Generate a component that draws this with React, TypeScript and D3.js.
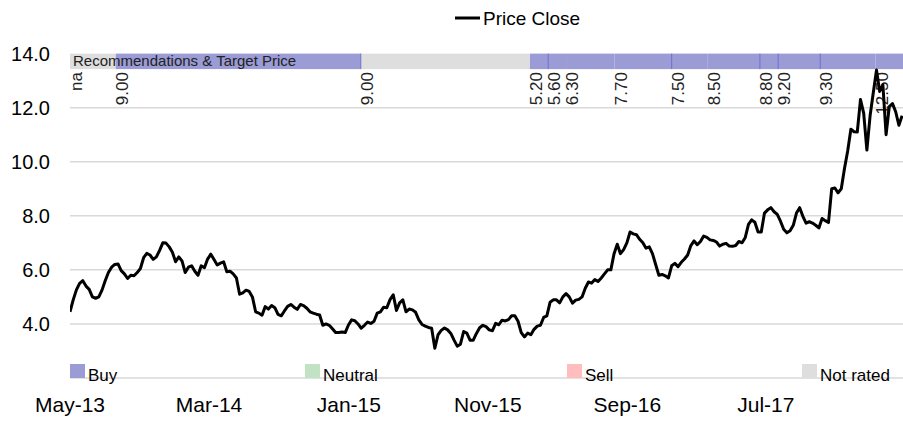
import React from "react";
import * as d3 from "d3";

// ---- data ----
const seriesStart = "2013-05-01";
const axisEnd = "2018-04-27";
// weekly closing prices, one per week from seriesStart
const weeklyClose = [
  4.45, 4.89, 5.26, 5.5, 5.6, 5.4, 5.28, 5.0, 4.95, 5.0,
  5.25, 5.6, 5.9, 6.1, 6.2, 6.22, 5.97, 5.85, 5.68, 5.8,
  5.78, 5.9, 6.05, 6.45, 6.61, 6.55, 6.39, 6.48, 6.72, 7.0,
  6.99, 6.85, 6.65, 6.3, 6.48, 6.33, 5.9, 6.1, 6.15, 5.95,
  5.8, 6.15, 6.08, 6.4, 6.58, 6.38, 6.18, 6.25, 6.3, 5.93,
  5.95, 5.85, 5.7, 5.1, 5.15, 5.25, 5.2, 5.0, 4.45, 4.4,
  4.32, 4.64, 4.55, 4.68, 4.6, 4.35, 4.3, 4.48, 4.65, 4.72,
  4.62, 4.54, 4.72, 4.68, 4.58, 4.45, 4.4, 4.36, 4.33, 3.95,
  4.0, 3.95, 3.82, 3.68, 3.68, 3.7, 3.68, 3.96, 4.15, 4.12,
  4.0, 3.84, 3.95, 4.07, 4.02, 4.1, 4.4, 4.45, 4.62, 4.6,
  4.9, 5.08, 4.5, 4.78, 4.89, 4.45, 4.55, 4.52, 4.43, 4.15,
  3.98, 3.92, 3.87, 3.84, 3.1, 3.6, 3.76, 3.85, 3.78, 3.65,
  3.4, 3.18, 3.25, 3.72, 3.66, 3.4, 3.4, 3.65, 3.86, 3.95,
  3.9, 3.78, 3.75, 4.02, 3.97, 4.14, 4.11, 4.16, 4.3, 4.3,
  4.1, 3.68, 3.52, 3.66, 3.6, 3.8, 3.92, 3.95, 4.24, 4.3,
  4.8, 4.89, 4.89, 4.78, 5.0, 5.12, 5.0, 4.77, 4.88, 4.91,
  5.0, 5.32, 5.55, 5.51, 5.64, 5.57, 5.7, 5.85, 6.0, 6.0,
  6.6, 6.95, 6.6, 6.75, 7.0, 7.4, 7.33, 7.3, 7.13, 7.0,
  6.8, 6.85, 6.6, 6.2, 5.8, 5.83, 5.78, 5.7, 6.15, 6.24,
  6.12, 6.28, 6.4, 6.55, 6.9, 7.07, 6.93, 7.05, 7.25, 7.2,
  7.11, 7.09, 7.03, 6.88, 6.95, 6.98, 6.88, 6.87, 6.9, 7.05,
  7.0, 7.2, 7.68, 7.85, 7.76, 7.4, 7.4, 8.1, 8.22, 8.3,
  8.15, 8.05, 7.8, 7.5, 7.37, 7.45, 7.65, 8.1, 8.3, 7.98,
  7.73, 7.78, 7.73, 7.65, 7.55, 7.9, 7.82, 7.75, 9.0, 9.03,
  8.85, 9.0, 9.75, 10.4, 11.2, 11.11, 11.1, 12.3, 11.8, 10.43,
  11.7, 12.55, 13.39, 12.6, 12.84, 11.0, 12.04, 12.15, 11.85, 11.35,
  11.7,
];

const yTicks = [4, 6, 8, 10, 12, 14];
const gridValues = [2, 4, 6, 8, 10, 12];
const xTickDates = ["2013-05-01", "2014-03-01", "2015-01-01", "2015-11-01", "2016-09-01", "2017-07-01"];
const xTickLabels = ["May-13", "Mar-14", "Jan-15", "Nov-15", "Sep-16", "Jul-17"];

// recommendation history
const ratingDates = [
  "2013-05-01", "2013-08-09", "2015-01-27", "2016-02-01", "2016-03-12", "2016-04-20",
  "2016-08-04", "2016-12-07", "2017-02-24", "2017-06-18", "2017-07-28", "2017-10-28", "2018-02-26",
];
const ratingTypes = [
  "Not rated", "Buy", "Not rated", "Buy", "Buy", "Buy",
  "Buy", "Buy", "Buy", "Buy", "Buy", "Buy", "Buy",
];
const targetPrices = [
  "na", "9.00", "9.00", "5.20", "5.60", "6.30",
  "7.70", "7.50", "8.50", "8.80", "9.20", "9.30", "12.50",
];
const dividerDates = ["2015-01-27", "2016-03-12", "2016-12-07", "2017-06-18", "2017-07-28", "2017-10-28"];

const legendLabels = ["Buy", "Neutral", "Sell", "Not rated"];
const seriesName = "Price Close";
const bannerTitle = "Recommendations & Target Price";

// ---- style ----
const ratingColor: Record<string, string> = {
  Buy: "#9b9bd6",
  Neutral: "#c2e2c6",
  Sell: "#ffbdbd",
  "Not rated": "#dedede",
};
const FONT = "'Liberation Sans', Arial, Helvetica, sans-serif";

export default function App() {
  const W = 903;
  const H = 421;
  const parse = d3.timeParse("%Y-%m-%d");
  const start = parse(seriesStart)!;
  const end = parse(axisEnd)!;

  const plotLeft = 70;
  const plotRight = 903;

  const x = d3.scaleTime().domain([start, end]).range([plotLeft, plotRight]);
  const y = d3.scaleLinear().domain([2, 14]).range([378, 53.6]);

  const data = weeklyClose.map((v, i) => ({ date: d3.timeDay.offset(start, 7 * i), value: v }));
  const line = d3
    .line<{ date: Date; value: number }>()
    .x((d) => x(d.date))
    .y((d) => y(d.value));

  const bannerTop = y(14);
  const bannerH = 15.5;

  const rDates = ratingDates.map((d) => parse(d)!);
  const segments = rDates.map((d, i) => ({
    x0: x(d),
    x1: i < rDates.length - 1 ? x(rDates[i + 1]) : plotRight,
    type: ratingTypes[i],
    label: targetPrices[i],
  }));

  const legendX = [70, 305, 567, 802];

  return (
    <svg
      width={W}
      height={H}
      style={{ position: "absolute", left: 0, top: 0, background: "#fff" }}
      fontFamily={FONT}
    >
      <defs>
        <clipPath id="plotClip">
          <rect x={plotLeft} y={0} width={plotRight - plotLeft} height={H} />
        </clipPath>
      </defs>

      {/* top legend */}
      <line x1={455} x2={480} y1={18} y2={18} stroke="#000" strokeWidth={3} />
      <text x={483} y={25} fontSize={19} fill="#000">
        {seriesName}
      </text>

      {/* gridlines */}
      {gridValues.map((v) => (
        <line key={v} x1={plotLeft} x2={plotRight} y1={y(v)} y2={y(v)} stroke="#d9d9d9" strokeWidth={1.5} />
      ))}

      {/* y tick labels */}
      {yTicks.map((v) => (
        <text key={v} x={50} y={y(v)} dy="0.35em" textAnchor="end" fontSize={20} fill="#000">
          {v.toFixed(1)}
        </text>
      ))}

      {/* x tick labels */}
      {xTickDates.map((d, i) => (
        <text key={d} x={x(parse(d)!)} y={412} textAnchor="middle" fontSize={21} fill="#000">
          {xTickLabels[i]}
        </text>
      ))}

      {/* recommendation banner */}
      {segments.map((s, i) => (
        <rect key={i} x={s.x0} y={bannerTop} width={s.x1 - s.x0} height={bannerH} fill={ratingColor[s.type]} />
      ))}
      {dividerDates.map((d) => {
        const xx = x(parse(d)!);
        return <line key={d} x1={xx} x2={xx} y1={bannerTop} y2={bannerTop + bannerH} stroke="#6b6bcf" strokeWidth={1} />;
      })}
      <text x={73} y={bannerTop + 12.5} fontSize={15} fill="#222">
        {bannerTitle}
      </text>

      {/* target price labels */}
      {segments.map((s, i) => (
        <text
          key={i}
          transform={`translate(${s.x0 + 12},${bannerTop + bannerH + 3}) rotate(-90)`}
          textAnchor="end"
          fontSize={17}
          fill="#222"
        >
          {s.label}
        </text>
      ))}

      {/* price line */}
      <path d={line(data) ?? ""} fill="none" stroke="#000" strokeWidth={3} strokeLinejoin="round" clipPath="url(#plotClip)" />

      {/* bottom legend */}
      {legendLabels.map((l, i) => (
        <g key={l}>
          <rect x={legendX[i]} y={364} width={15} height={14} fill={ratingColor[l]} />
          <text x={legendX[i] + 18} y={381} fontSize={17} fill="#000">
            {l}
          </text>
        </g>
      ))}
    </svg>
  );
}
